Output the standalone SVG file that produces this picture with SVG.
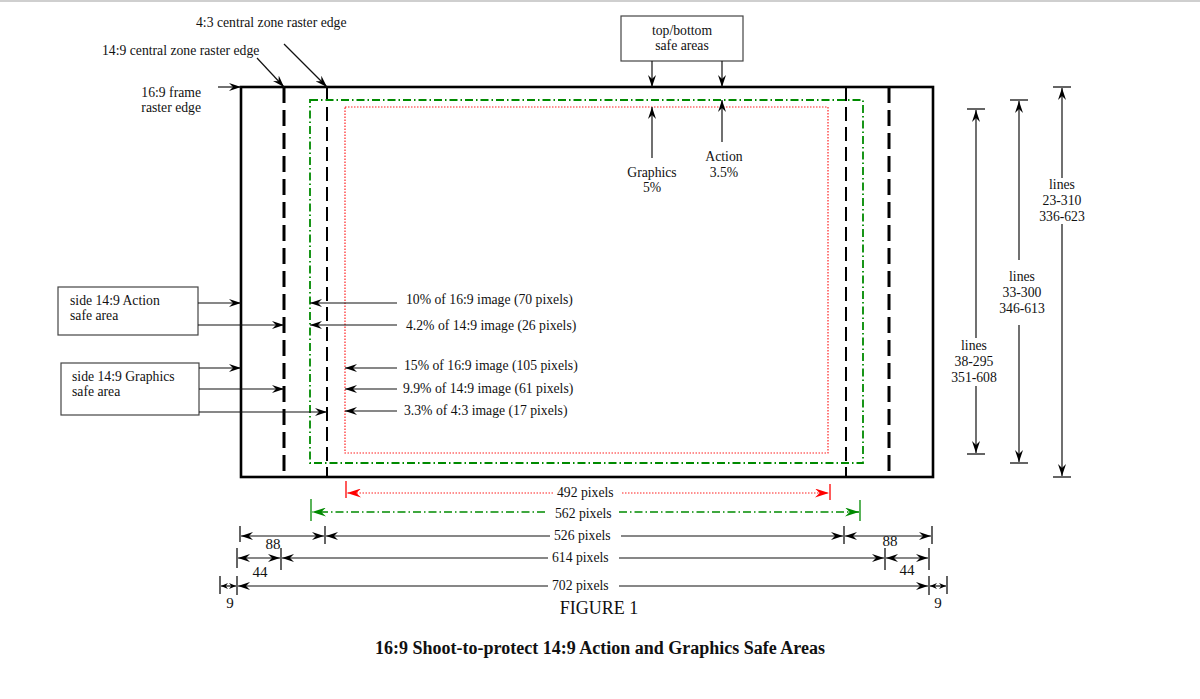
<svg xmlns="http://www.w3.org/2000/svg" width="1200" height="699" viewBox="0 0 1200 699">
<defs>
<style>
text{font-family:"Liberation Serif","Times New Roman",serif;font-size:13.7px;fill:#111}
.c{text-anchor:middle}
.e{text-anchor:end}
.n{font-size:15px}
.ln{stroke:#111;stroke-width:1.2;fill:none}
.box{fill:#fff;stroke:#444;stroke-width:1.2}
.tick{stroke:#111;stroke-width:1.3}
.frame{fill:none;stroke:#000;stroke-width:2.6}
.z149{stroke:#000;stroke-width:3;stroke-dasharray:16 7;fill:none}
.z43{stroke:#000;stroke-width:2;stroke-dasharray:14 6;fill:none}
.grn{stroke:#008a00;stroke-width:1.8;stroke-dasharray:8 3 1.5 3;fill:none}
.red{stroke:#ff2020;stroke-width:1.2;stroke-dasharray:1.5 1.5;fill:none}
.a{marker-end:url(#ah)}
.b{marker-start:url(#ah);marker-end:url(#ah)}
.s{marker-start:url(#as);marker-end:url(#as)}
</style>
<marker id="ah" viewBox="0 0 12 10" refX="12" refY="5" markerWidth="12" markerHeight="8" markerUnits="userSpaceOnUse" orient="auto-start-reverse" preserveAspectRatio="none"><path d="M12,5 L0,0 L4,5 L0,10 Z" fill="#000"/></marker>
<marker id="as" viewBox="0 0 12 10" refX="12" refY="5" markerWidth="7" markerHeight="6" markerUnits="userSpaceOnUse" orient="auto-start-reverse" preserveAspectRatio="none"><path d="M12,5 L0,0 L4,5 L0,10 Z" fill="#000"/></marker>
<marker id="ar" viewBox="0 0 12 10" refX="12" refY="5" markerWidth="14" markerHeight="9" markerUnits="userSpaceOnUse" orient="auto-start-reverse" preserveAspectRatio="none"><path d="M12,5 L0,0 L4,5 L0,10 Z" fill="#ff0000"/></marker>
<marker id="ag" viewBox="0 0 12 10" refX="12" refY="5" markerWidth="14" markerHeight="9" markerUnits="userSpaceOnUse" orient="auto-start-reverse" preserveAspectRatio="none"><path d="M12,5 L0,0 L4,5 L0,10 Z" fill="#008a00"/></marker>
</defs>
<rect x="0" y="0" width="1200" height="699" fill="#fff"/>
<rect x="0" y="0" width="1200" height="2" fill="#cfcfcf"/>

<g id="frame">
<rect class="frame" x="241" y="87" width="692" height="390"/>
<line class="z149" x1="284" y1="87" x2="284" y2="477"/>
<line class="z149" x1="889" y1="87" x2="889" y2="477"/>
<line class="z43" x1="327" y1="87" x2="327" y2="477"/>
<line class="z43" x1="846" y1="87" x2="846" y2="477"/>
<rect class="grn" x="310" y="100" width="553" height="363"/>
<rect class="red" x="345" y="107" width="483" height="346"/>
</g>

<g id="top-labels">
<text x="196" y="27">4:3 central zone raster edge</text>
<text x="102" y="55">14:9 central zone raster edge</text>
<text class="e" x="201" y="97">16:9 frame</text>
<text class="e" x="201" y="112">raster edge</text>
</g>

<g id="top-bottom-box">
<rect class="box" x="621" y="16" width="122" height="45"/>
<text class="c" x="682" y="35">top/bottom</text>
<text class="c" x="682" y="50">safe areas</text>
</g>

<g id="graphics-label">
<text class="c" x="652" y="177">Graphics</text>
<text class="c" x="652" y="192">5%</text>
</g>
<g id="action-label">
<text class="c" x="724" y="161">Action</text>
<text class="c" x="724" y="177">3.5%</text>
</g>

<g id="side-action-box">
<rect class="box" x="58" y="287" width="140" height="48"/>
<text x="70" y="305">side 14:9 Action</text>
<text x="70" y="320">safe area</text>
</g>
<g id="side-graphics-box">
<rect class="box" x="61" y="363" width="138" height="52"/>
<text x="72" y="381">side 14:9 Graphics</text>
<text x="72" y="396">safe area</text>
</g>

<g id="margin-labels">
<text x="406" y="304">10% of 16:9 image (70 pixels)</text>
<text x="406" y="330">4.2% of 14:9 image (26 pixels)</text>
<text x="404" y="370">15% of 16:9 image (105 pixels)</text>
<text x="403" y="393">9.9% of 14:9 image (61 pixels)</text>
<text x="404" y="415">3.3% of 4:3 image (17 pixels)</text>
</g>

<g id="line-labels">
<text class="c" x="1062" y="189">lines</text>
<text class="c" x="1062" y="205">23-310</text>
<text class="c" x="1062" y="221">336-623</text>
<text class="c" x="1022" y="281">lines</text>
<text class="c" x="1022" y="297">33-300</text>
<text class="c" x="1022" y="313">346-613</text>
<text class="c" x="974" y="350">lines</text>
<text class="c" x="974" y="366">38-295</text>
<text class="c" x="974" y="382">351-608</text>
</g>

<g id="dimension-labels">
<text x="557" y="497">492 pixels</text>
<text x="555" y="518">562 pixels</text>
<text x="554" y="540">526 pixels</text>
<text x="552" y="562">614 pixels</text>
<text x="552" y="590">702 pixels</text>
<text class="c n" x="273" y="549">88</text>
<text class="c n" x="890" y="546">88</text>
<text class="c n" x="260" y="577">44</text>
<text class="c n" x="907" y="575">44</text>
<text class="c n" x="230" y="608">9</text>
<text class="c n" x="938" y="608">9</text>
</g>

<g id="caption">
<text class="c" x="599" y="614" style="font-size:18px">FIGURE 1</text>
<text class="c" x="600" y="654" style="font-size:18px;font-weight:bold">16:9 Shoot-to-protect 14:9 Action and Graphics Safe Areas</text>
</g>

<g id="connectors">
<line class="ln a" x1="257" y1="58" x2="284" y2="87"/>
<line class="ln a" x1="284" y1="44" x2="327" y2="87"/>
<line class="ln a" x1="218" y1="87" x2="241" y2="87"/>
<line class="ln a" x1="652" y1="61" x2="652" y2="87"/>
<line class="ln a" x1="722" y1="61" x2="722" y2="87"/>
<line class="ln a" x1="652" y1="158" x2="652" y2="107"/>
<line class="ln a" x1="722" y1="142" x2="722" y2="100"/>
<line class="ln a" x1="198" y1="303" x2="241" y2="303"/>
<line class="ln a" x1="198" y1="325" x2="284" y2="325"/>
<line class="ln a" x1="199" y1="368" x2="241" y2="368"/>
<line class="ln a" x1="199" y1="389" x2="284" y2="389"/>
<line class="ln a" x1="199" y1="412" x2="327" y2="412"/>
<line class="ln a" x1="397" y1="303" x2="310" y2="303"/>
<line class="ln a" x1="397" y1="325" x2="310" y2="325"/>
<line class="ln a" x1="397" y1="368" x2="345" y2="368"/>
<line class="ln a" x1="397" y1="389" x2="345" y2="389"/>
<line class="ln a" x1="397" y1="411" x2="345" y2="411"/>
<line class="tick" x1="1053" y1="87" x2="1071" y2="87"/>
<line class="tick" x1="1053" y1="477" x2="1071" y2="477"/>
<line class="ln a" x1="1062" y1="178" x2="1062" y2="88"/>
<line class="ln a" x1="1062" y1="224" x2="1062" y2="476"/>
<line class="tick" x1="1010" y1="100" x2="1028" y2="100"/>
<line class="tick" x1="1010" y1="463" x2="1028" y2="463"/>
<line class="ln a" x1="1019" y1="260" x2="1019" y2="101"/>
<line class="ln a" x1="1019" y1="325" x2="1019" y2="462"/>
<line class="tick" x1="967" y1="109" x2="985" y2="109"/>
<line class="tick" x1="967" y1="454" x2="985" y2="454"/>
<line class="ln a" x1="976" y1="338" x2="976" y2="110"/>
<line class="ln a" x1="976" y1="386" x2="976" y2="453"/>
<line x1="346" y1="481" x2="346" y2="498" stroke="#ff0000" stroke-width="1.3"/>
<line x1="830" y1="484" x2="830" y2="500" stroke="#ff0000" stroke-width="1.3"/>
<line x1="553" y1="493" x2="347" y2="493" stroke="#ff2020" stroke-width="1.2" stroke-dasharray="1.5 1.5" marker-end="url(#ar)"/>
<line x1="622" y1="493" x2="829" y2="493" stroke="#ff2020" stroke-width="1.2" stroke-dasharray="1.5 1.5" marker-end="url(#ar)"/>
<line x1="311" y1="499" x2="311" y2="521" stroke="#008a00" stroke-width="1.3"/>
<line x1="860" y1="500" x2="860" y2="521" stroke="#008a00" stroke-width="1.3"/>
<line x1="545" y1="512" x2="312" y2="512" stroke="#008a00" stroke-width="1.6" stroke-dasharray="8 3 1.5 3" marker-end="url(#ag)"/>
<line x1="619" y1="512" x2="859" y2="512" stroke="#008a00" stroke-width="1.6" stroke-dasharray="8 3 1.5 3" marker-end="url(#ag)"/>
<line class="tick" x1="240" y1="526" x2="240" y2="542"/>
<line class="tick" x1="325" y1="526" x2="325" y2="544"/>
<line class="tick" x1="844" y1="526" x2="844" y2="544"/>
<line class="tick" x1="932" y1="526" x2="932" y2="544"/>
<line class="ln b" x1="241" y1="536" x2="324" y2="536"/>
<line class="ln a" x1="550" y1="536" x2="326" y2="536"/>
<line class="ln a" x1="621" y1="536" x2="843" y2="536"/>
<line class="ln b" x1="845" y1="536" x2="931" y2="536"/>
<line class="tick" x1="237" y1="548" x2="237" y2="568"/>
<line class="tick" x1="281" y1="548" x2="281" y2="570"/>
<line class="tick" x1="885" y1="548" x2="885" y2="570"/>
<line class="tick" x1="929" y1="548" x2="929" y2="570"/>
<line class="ln b" x1="238" y1="558" x2="280" y2="558"/>
<line class="ln a" x1="548" y1="558" x2="282" y2="558"/>
<line class="ln a" x1="619" y1="558" x2="884" y2="558"/>
<line class="ln b" x1="886" y1="558" x2="928" y2="558"/>
<line class="tick" x1="220" y1="576" x2="220" y2="594"/>
<line class="tick" x1="237" y1="576" x2="237" y2="595"/>
<line class="tick" x1="929" y1="576" x2="929" y2="595"/>
<line class="tick" x1="947" y1="576" x2="947" y2="594"/>
<line class="ln s" x1="221" y1="586" x2="236" y2="586"/>
<line class="ln a" x1="548" y1="586" x2="238" y2="586"/>
<line class="ln a" x1="619" y1="586" x2="928" y2="586"/>
<line class="ln s" x1="930" y1="586" x2="946" y2="586"/>
</g>
</svg>
